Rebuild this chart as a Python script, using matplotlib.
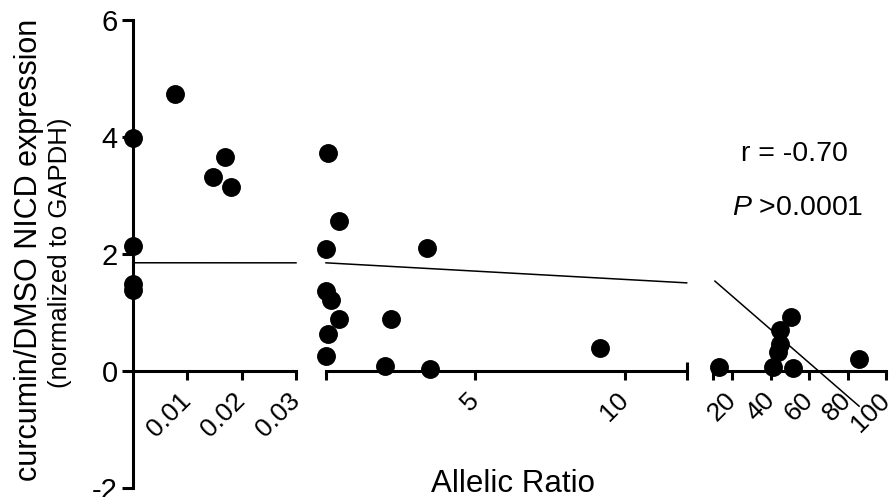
import matplotlib
matplotlib.use('Agg')
import matplotlib.pyplot as plt
import numpy as np

plt.rcParams['font.family'] = ['Liberation Sans', 'DejaVu Sans']
plt.rcParams['mathtext.fontset'] = 'custom'
plt.rcParams['mathtext.rm'] = 'Liberation Sans'
plt.rcParams['mathtext.it'] = 'Liberation Sans:italic'

# allelic ratio vs curcumin/DMSO NICD expression
allelic_ratio = [0, 0, 0, 0, 0.0077, 0.0147, 0.0169, 0.018,
                 0.107, 0.473, 0.032, 3.41, 0.032, 0.207, 0.473, 2.2,
                 0.097, 0.032, 2.01, 3.51, 9.16,
                 13.2, 50.4, 45.0, 44.9, 43.8, 41.4, 51.5, 86.1]
nicd_expr = [3.98, 2.14, 1.49, 1.38, 4.73, 3.32, 3.66, 3.15,
             3.73, 2.57, 2.08, 2.11, 1.36, 1.21, 0.89, 0.89,
             0.63, 0.25, 0.09, 0.03, 0.39,
             0.06, 0.92, 0.70, 0.46, 0.33, 0.06, 0.05, 0.21]

# linear fit
fit_intercept = 1.85
fit_slope = -0.0285

# broken x axis: three segments
seg_limits = [(0, 0.03), (0.03, 12.05), (10, 100)]
seg_ticks = [[0.01, 0.02, 0.03], [0.03, 5, 10], [10, 20, 40, 60, 80, 100]]
seg_ticklabels = [['0.01', '0.02', '0.03'], ['', '5', '10'],
                  ['', '20', '40', '60', '80', '100']]
seg_point_range = [(0, 0.03), (0.031, 12), (12, 100)]
seg_fit_range = [(0, 0.03), (0.03, 12.05), (11, 86)]
y_ticks = [-2, 0, 2, 4, 6]

fig = plt.figure(figsize=(8.93, 4.97), dpi=100)
bottom, height = 9 / 497, 468 / 497
positions = [[133 / 893, bottom, 163 / 893, height],
             [326 / 893, bottom, 360.7 / 893, height],
             [713 / 893, bottom, 173 / 893, height]]

x = np.array(allelic_ratio)
y = np.array(nicd_expr)
lw = 2.2

for i, pos in enumerate(positions):
    ax = fig.add_axes(pos)
    ax.patch.set_alpha(0)
    lo, hi = seg_point_range[i]
    m = (x >= lo) & (x <= hi)
    ax.scatter(x[m], y[m], s=185, color='black', zorder=3, clip_on=False, linewidths=0)
    fx = np.linspace(seg_fit_range[i][0], seg_fit_range[i][1], 50)
    ax.plot(fx, fit_intercept + fit_slope * fx, color='black', lw=1.1, clip_on=False)

    ax.set_xlim(*seg_limits[i])
    ax.set_ylim(-2, 6)
    for s in ['top', 'right']:
        ax.spines[s].set_visible(False)
    ax.spines['bottom'].set_position(('data', 0))
    ax.spines['bottom'].set_linewidth(lw)
    ax.spines['left'].set_linewidth(lw)

    ax.set_xticks(seg_ticks[i])
    ax.set_xticklabels(seg_ticklabels[i], fontsize=19)
    ax.tick_params(axis='x', direction='out', length=6.5, width=lw, pad=12)
    plt.setp(ax.get_xticklabels(), rotation=45, ha='right', va='center',
             rotation_mode='anchor')

    # end caps on the broken segments
    if i < 2:
        ax.set_xticks([seg_limits[i][1]], minor=True)
        ax.tick_params(axis='x', which='minor', direction='inout', length=13, width=lw)

    if i == 0:
        ax.set_yticks(y_ticks)
        ax.set_yticklabels([str(t) for t in y_ticks], fontsize=21)
        ax.tick_params(axis='y', direction='out', length=8, width=lw, pad=3)
    else:
        ax.spines['left'].set_visible(False)
        ax.set_yticks([])

fig.text(0.0325, 0.497, 'curcumin/DMSO NICD expression', rotation=90,
         fontsize=22, ha='center', va='center')
fig.text(0.067, 0.491, '(normalized to GAPDH)', rotation=90,
         fontsize=18.5, ha='center', va='center')
fig.text(0.575, 0.011, 'Allelic Ratio', fontsize=22.5, ha='center', va='baseline')
fig.text(0.890, 0.690, 'r = -0.70', fontsize=20.5, ha='center', va='center')
fig.text(0.893, 0.582, r'$\mathit{P}$ >0.0001', fontsize=20.5, ha='center', va='center')

fig.savefig('out.png', dpi=100)
